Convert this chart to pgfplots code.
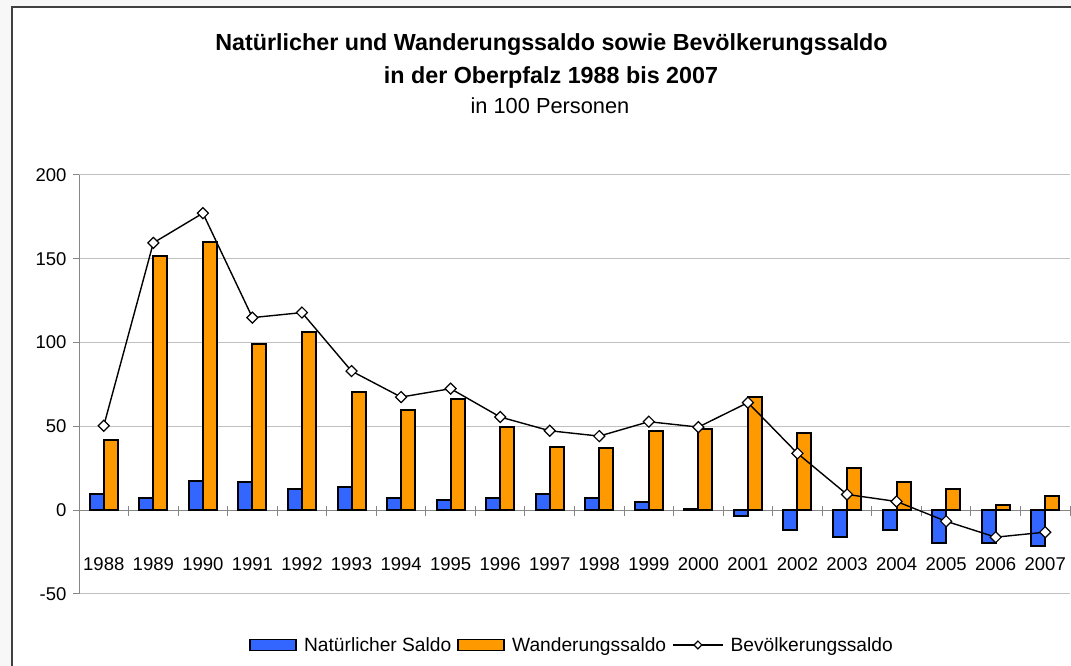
\documentclass[border=0pt]{standalone}
\usepackage{fontspec}
\setmainfont{Liberation Sans}
\usepackage{pgfplots}
\pgfplotsset{compat=1.18}
\definecolor{natblue}{HTML}{3366FF}
\definecolor{wandorange}{HTML}{FF9900}
\definecolor{gridgray}{HTML}{C0C0C0}
\definecolor{axisgray}{HTML}{868686}
\definecolor{bggray}{HTML}{F7F7F7}
\definecolor{framegray}{HTML}{404040}
\begin{document}
\begin{tikzpicture}[x=1pt,y=1pt]
\useasboundingbox (0,0) rectangle (1071,666);
\fill[bggray] (0,0) rectangle (1071,666);
\fill[white] (11.7,0) rectangle (1071,659.3);
\draw[framegray,line width=2pt] (11.7,0) -- (11.7,659.3) -- (1071,659.3);
\node[font=\fontsize{23.3}{26}\selectfont\bfseries] at (551.5,621) {Natürlicher und Wanderungssaldo sowie Bevölkerungssaldo};
\node[font=\fontsize{23.3}{26}\selectfont\bfseries] at (551,589) {in der Oberpfalz 1988 bis 2007};
\node[font=\fontsize{21.8}{24}\selectfont] at (550,560) {in 100 Personen};
\begin{axis}[
  at={(79pt,72pt)}, anchor=south west,
  scale only axis, width=991pt, height=419pt,
  xmin=-0.5, xmax=19.5, ymin=-50, ymax=200,
  axis x line=middle, axis y line=left,
  x axis line style={-, axisgray, line width=1pt},
  y axis line style={-, axisgray, line width=1pt},
  tick align=outside,
  major tick length=6pt, minor tick length=10pt,
  xtick={0,...,19},
  xticklabels={1988,1989,1990,1991,1992,1993,1994,1995,1996,1997,1998,1999,2000,2001,2002,2003,2004,2005,2006,2007},
  minor xtick={-0.5,0.5,...,19.5},
  major x tick style={draw=none},
  minor x tick style={axisgray, line width=1pt, yshift=4pt},
  ytick={-50,0,50,100,150,200},
  yticklabels={-50,0,50,100,150,200},
  major y tick style={axisgray, line width=1pt},
  ymajorgrids, grid style={gridgray, line width=1pt},
  tick label style={font=\fontsize{18.5}{20}\selectfont},
  xticklabel style={anchor=base, yshift=-54pt},
  yticklabel style={anchor=east, xshift=-3pt},
  clip=false,
  legend style={at={(0.4965,-0.1217)}, anchor=center, draw=none, fill=none,
    legend columns=-1, font=\fontsize{19.2}{21}\selectfont,
    nodes={inner xsep=0pt},
    /tikz/every even column/.append style={column sep=6pt},
    /tikz/every odd column/.append style={column sep=7pt}},
  legend cell align=left,
]
\addplot[ybar, bar width=14pt, bar shift=-7pt, fill=natblue, draw=black, line width=2pt,
  legend image code/.code={\draw[fill=natblue,draw=black,line width=1.8pt] (0pt,-5.5pt) rectangle (46pt,5.5pt);}]
  coordinates {(0,9.6) (1,7.2) (2,17.7) (3,16.7) (4,12.5) (5,13.6) (6,7.2) (7,6.2) (8,7.2) (9,9.4)
   (10,7.2) (11,5.0) (12,0.6) (13,-3.4) (14,-11.9) (15,-15.9) (16,-11.9) (17,-19.3) (18,-19.3) (19,-21.5)};
\addlegendentry{Natürlicher Saldo}
\addplot[ybar, bar width=14pt, bar shift=7pt, fill=wandorange, draw=black, line width=2pt,
  legend image code/.code={\draw[fill=wandorange,draw=black,line width=1.8pt] (0pt,-5.5pt) rectangle (46pt,5.5pt);}]
  coordinates {(0,42.1) (1,151.7) (2,160.3) (3,99.0) (4,106.3) (5,70.5) (6,60.0) (7,66.3) (8,49.6) (9,37.9)
   (10,36.9) (11,47.4) (12,48.2) (13,67.5) (14,46.2) (15,25.1) (16,16.7) (17,12.5) (18,3.0) (19,8.4)};
\addlegendentry{Wanderungssaldo}
\addplot[black, line width=1.4pt, mark=square*, mark size=3.9pt,
  mark options={rotate=45, fill=white, draw=black, line width=1.2pt},
  legend image code/.code={\draw[black,line width=1.4pt] (0pt,0pt) -- (50pt,0pt);
    \draw[fill=white,draw=black,line width=1.2pt,rotate around={45:(25pt,0pt)}] (22.2pt,-2.8pt) rectangle (27.8pt,2.8pt);}]
  coordinates {(0,50.4) (1,159.5) (2,177.2) (3,114.9) (4,117.9) (5,83.0) (6,67.5) (7,72.5) (8,55.6) (9,47.4)
   (10,44.2) (11,52.8) (12,49.6) (13,64.2) (14,33.9) (15,9.4) (16,5.2) (17,-6.6) (18,-16.1) (19,-13.1)};
\addlegendentry{Bevölkerungssaldo}
\end{axis}
\end{tikzpicture}
\end{document}
